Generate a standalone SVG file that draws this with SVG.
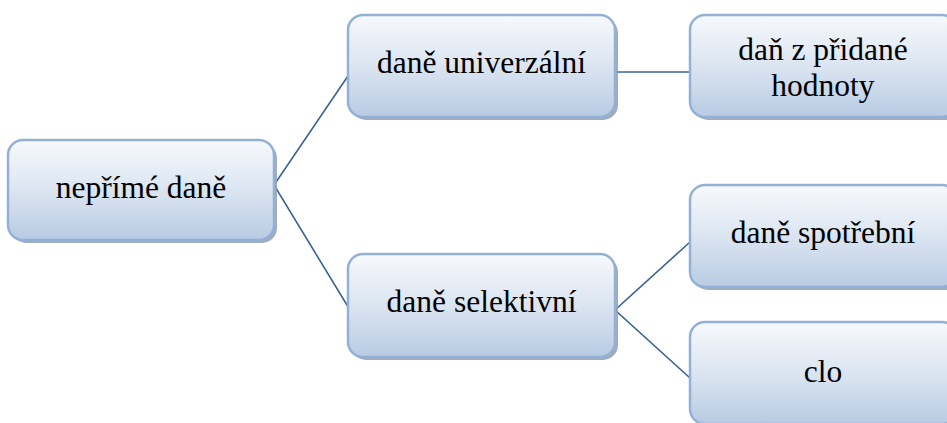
<svg xmlns="http://www.w3.org/2000/svg" width="947" height="423" viewBox="0 0 947 423">
<style>
.box{fill:url(#g);stroke:#93b1d6;stroke-width:2.5}
.sh{fill:#8f9fb3;opacity:0.85}
.t{font-family:"Liberation Serif","Times New Roman",serif;font-size:31.5px;fill:#000;text-anchor:middle}
.c{fill:none;stroke:#3a6394;stroke-width:1.6}
</style>
<defs>
<linearGradient id="g" x1="0" y1="0" x2="0" y2="1">
<stop offset="0" stop-color="#f7f9fc"/>
<stop offset="0.5" stop-color="#dbe5f1"/>
<stop offset="1" stop-color="#b8cbe3"/>
</linearGradient>
</defs>
<rect width="947" height="423" fill="#ffffff"/>
<g id="connectors">
<polyline class="c" points="350,73 274,185 350,310"/>
<line class="c" x1="615" y1="72" x2="690" y2="72"/>
<polyline class="c" points="690,242 615,310 690,378"/>
</g>
<g id="n1">
<rect class="sh" x="11" y="143" width="266" height="100" rx="15"/>
<rect class="box" x="8" y="140" width="266" height="100" rx="15"/>
<text class="t" x="141" y="198">nepřímé daně</text>
</g>
<g id="n2">
<rect class="sh" x="351" y="18" width="267" height="102" rx="15"/>
<rect class="box" x="348" y="15" width="267" height="102" rx="15"/>
<text class="t" x="481.5" y="73">daně univerzální</text>
</g>
<g id="n3">
<rect class="sh" x="693" y="18" width="267" height="102" rx="15"/>
<rect class="box" x="690" y="15" width="267" height="102" rx="15"/>
<text class="t" x="823" y="60">daň z přidané</text>
<text class="t" x="823" y="96">hodnoty</text>
</g>
<g id="n4">
<rect class="sh" x="351" y="257" width="267" height="103" rx="15"/>
<rect class="box" x="348" y="254" width="267" height="103" rx="15"/>
<text class="t" x="481.5" y="312">daně selektivní</text>
</g>
<g id="n5">
<rect class="sh" x="693" y="188" width="267" height="102" rx="15"/>
<rect class="box" x="690" y="185" width="267" height="102" rx="15"/>
<text class="t" x="823" y="243">daně spotřební</text>
</g>
<g id="n6">
<rect class="sh" x="693" y="325" width="267" height="102" rx="15"/>
<rect class="box" x="690" y="322" width="267" height="102" rx="15"/>
<text class="t" x="823" y="382">clo</text>
</g>
</svg>
